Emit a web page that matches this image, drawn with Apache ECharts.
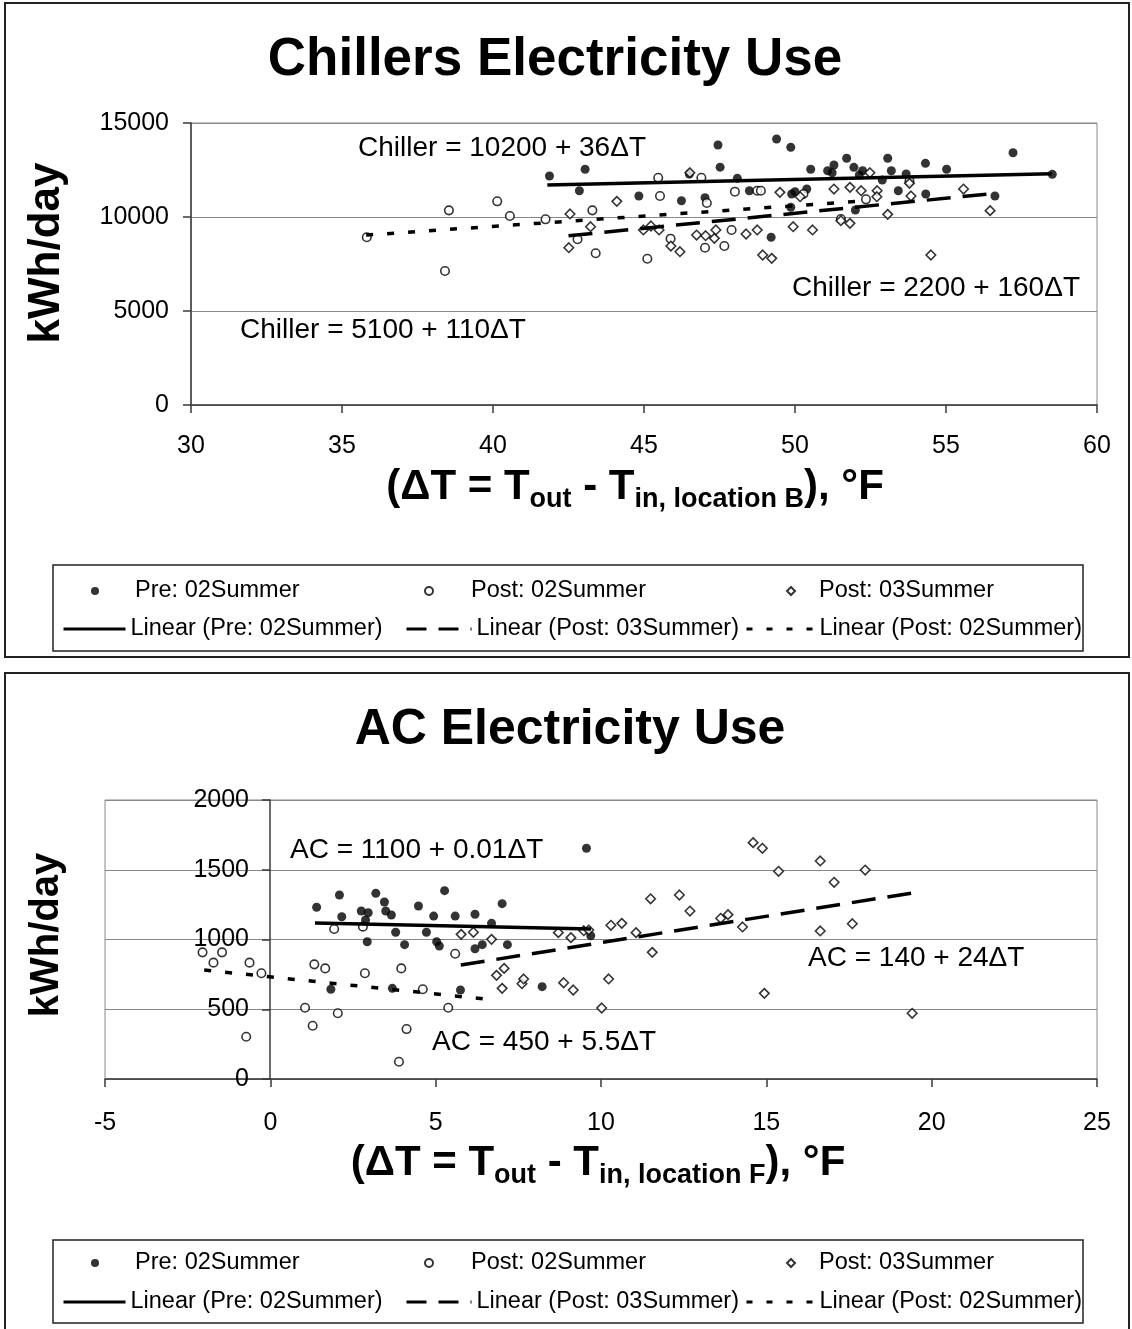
<!DOCTYPE html>
<html><head><meta charset="utf-8">
<script src="https://cdn.jsdelivr.net/npm/echarts@6/dist/echarts.min.js"></script>
<style>html,body{margin:0;padding:0;background:#fff}#c1{width:1132px;height:660px}#c2{width:1132px;height:669px}</style>
</head><body><div id="c1"></div><div id="c2"></div>
<script>
// ---------- DATA: Chillers (top chart) ----------
const chillerPre02 = [[41.87,12181],[43.05,12537],[42.86,11399],[44.83,11117],[46.24,10867],[47.02,11027],[46.5,12287],[47.45,13830],[47.52,12650],[48.09,12058],[49.39,14149],[49.86,13707],[48.49,11399],[49.21,8920],[49.89,11223],[50.0,11347],[50.39,11489],[49.86,10516],[50.52,12537],[51.08,12463],[51.23,12356],[51.29,12766],[51.71,13122],[51.95,12643],[52.24,12463],[52.13,12234],[52.0,10373],[52.89,11968],[53.07,13122],[53.19,12463],[53.68,12287],[53.42,11399],[54.32,12856],[54.33,11223],[55.02,12537],[56.62,11117],[57.22,13420],[58.52,12270]];
const chillerPost02 = [[35.82,8920],[38.41,7128],[38.54,10355],[40.14,10834],[40.56,10053],[41.74,9877],[42.8,8814],[43.29,10355],[43.4,8069],[45.47,12090],[45.53,11117],[45.88,8846],[45.11,7782],[46.9,12090],[47.08,10745],[47.02,8367],[48.01,11347],[48.75,11399],[48.87,11399],[47.66,8457],[47.9,9309],[52.35,10941],[51.52,9894],[53.79,11915],[50.28,11223]];
const chillerPost03 = [[42.55,10160],[42.51,8367],[43.23,9484],[44.1,10834],[44.98,9309],[45.23,9521],[45.5,9309],[45.89,8457],[46.19,8154],[46.52,12356],[46.74,9042],[47.04,9005],[47.33,8866],[47.38,9309],[52.48,12356],[49.5,11313],[50.17,11080],[51.29,11489],[51.82,11578],[52.19,11399],[52.72,11399],[52.71,11080],[53.79,11790],[53.84,11117],[55.58,11489],[53.07,10143],[56.46,10337],[48.38,9096],[48.75,9309],[48.93,7979],[49.23,7801],[49.94,9484],[50.58,9309],[51.52,9803],[51.82,9661],[54.5,7979]];
const chillerPreFit = [[41.8,11705],[58.5,12306]];
const chillerPost03Fit = [[42.5,9000],[56.4,11224]];
const chillerPost02Fit = [[35.8,9038],[52.4,10864]];
const chillerXTicks = {min:30, max:60, interval:5};
const chillerYTicks = {min:0, max:15000, interval:5000};
const chillerNotes = ['Chiller = 10200 + 36ΔT','Chiller = 2200 + 160ΔT','Chiller = 5100 + 110ΔT'];

// ---------- DATA: AC (bottom chart) ----------
const acPre02 = [[9.56,1654],[1.40,1231],[2.09,1319],[2.16,1163],[2.75,1204],[2.96,1192],[2.93,984],[2.88,1140],[3.19,1331],[3.45,1269],[3.49,1204],[3.66,1176],[3.79,1052],[4.06,963],[4.48,1240],[4.72,1052],[4.94,1168],[5.27,1350],[5.03,984],[5.11,953],[5.59,1168],[6.19,1181],[6.19,934],[6.41,963],[6.69,1116],[7.01,1257],[7.17,963],[1.83,643],[3.69,650],[5.75,638],[8.22,662],[9.69,1027]];
const acPost02 = [[-0.27,758],[1.33,822],[1.66,793],[1.93,1075],[2.80,1092],[2.86,758],[3.96,793],[1.05,511],[1.28,382],[2.04,471],[4.12,358],[3.89,124],[4.61,643],[5.38,511],[5.59,898],[-2.05,908],[-1.46,908],[-1.72,834],[-0.63,834],[-0.73,303]];
const acPost03 = [[5.77,1037],[6.14,1052],[6.69,1001],[6.84,743],[7.07,793],[7.01,650],[7.61,683],[7.66,717],[8.71,1049],[8.87,690],[9.16,638],[9.09,1013],[9.48,1063],[10.3,1102],[10.63,1116],[10.23,717],[10.02,509],[9.63,1068],[11.06,1049],[11.5,1292],[11.55,908],[12.37,1319],[12.69,1204],[13.62,1152],[13.84,1178],[14.28,1090],[14.6,1694],[14.88,1654],[14.94,614],[15.37,1489],[16.63,1563],[16.63,1061],[17.05,1410],[17.6,1113],[17.99,1498],[19.41,471]];
const acPreFit = [[1.35,1118],[9.7,1075]];
const acPost03Fit = [[5.76,817],[19.4,1333]];
const acPost02Fit = [[-2.0,781],[6.5,573]];
const acXTicks = {min:-5, max:25, interval:5};
const acYTicks = {min:0, max:2000, interval:500};
const acNotes = ['AC = 1100 + 0.01ΔT','AC = 140 + 24ΔT','AC = 450 + 5.5ΔT'];

const seriesNames = ['Pre: 02Summer','Post: 02Summer','Post: 03Summer','Linear (Pre: 02Summer)','Linear (Post: 03Summer)','Linear (Post: 02Summer)'];

// ---------- BUILD ----------
const FF = '"Liberation Sans", Arial, Helvetica, sans-serif';
const AXC = '#3a3a3a';
const DASH_LONG = [24, 12];
const DASH_SHORT = [7, 14];

function makeOption(c) {
  const axisLine = {lineStyle:{color:AXC, width:1.5}};
  const axisTick = {show:true, inside:false, length:8, lineStyle:{color:AXC, width:1.5}};
  const legendBase = {orient:'horizontal', padding:0, selectedMode:false};
  const txt = (padLeft) => ({fontSize:23.5, color:'#000', fontFamily:FF, padding:[0,0,0,padLeft]});
  const hideSym = {itemStyle:{opacity:0, borderWidth:0}};
  const lg = (name, left, top, w, h, padLeft, extra) => Object.assign({}, legendBase, {data:[name], left, top, itemWidth:w, itemHeight:h, textStyle:txt(padLeft)}, extra || {});
  const L = c.legend;
  return {
    animation:false,
    backgroundColor:'#fff',
    textStyle:{fontFamily:FF},
    grid:{left:c.grid.left, top:c.grid.top, width:c.grid.width, height:c.grid.height, show:true, borderColor:'#888', borderWidth:1, containLabel:false},
    xAxis:{type:'value', min:c.xt.min, max:c.xt.max, interval:c.xt.interval,
      axisLine:Object.assign({onZero:false}, axisLine), axisTick,
      axisLabel:{fontSize:25, color:'#000', margin:c.xMargin, fontFamily:FF, formatter:(v) => String(v)},
      splitLine:{show:false}},
    yAxis:{type:'value', min:c.yt.min, max:c.yt.max, interval:c.yt.interval, offset:c.yOffset,
      axisLine:Object.assign({onZero:false, show:true}, axisLine), axisTick,
      axisLabel:{fontSize:25, color:'#000', margin:c.yMargin, fontFamily:FF, formatter:(v) => String(v)},
      splitLine:{show:true, lineStyle:{color:'#888', width:1}}},
    legend:[
      lg(seriesNames[0], L.r1[0] - 4, L.t1, 8, 8, L.r1t[0] - L.r1[0] - 9),
      lg(seriesNames[1], L.r1[1] - 4, L.t1, 8, 8, L.r1t[1] - L.r1[1] - 9),
      lg(seriesNames[2], L.r1[2] - 4, L.t1, 8, 8, L.r1t[2] - L.r1[2] - 9),
      lg(seriesNames[3], L.r2[0], L.t2, 62, 14, 0, Object.assign({lineStyle:{width:3, type:'solid', color:'#000'}}, hideSym)),
      lg(seriesNames[4], L.r2[1], L.t2, 65, 14, 0, Object.assign({lineStyle:{width:3, type:[20,12], color:'#000'}}, hideSym)),
      lg(seriesNames[5], L.r2[2], L.t2, 68, 14, 0, Object.assign({lineStyle:{width:3, type:[6,14], color:'#000'}}, hideSym))
    ],
    series:[
      {name:seriesNames[0], type:'scatter', data:c.pre, symbol:'circle', symbolSize:9, itemStyle:{color:'#000'}, silent:true},
      {name:seriesNames[1], type:'scatter', data:c.post02, symbol:'circle', symbolSize:8.5, itemStyle:{color:'#fff', borderColor:'#000', borderWidth:1.6}, silent:true},
      {name:seriesNames[2], type:'scatter', data:c.post03, symbol:'diamond', symbolSize:9.5, itemStyle:{color:'#fff', borderColor:'#000', borderWidth:1.6}, silent:true},
      {name:seriesNames[3], type:'line', data:c.preFit, symbol:'none', itemStyle:{color:'#000'}, lineStyle:{color:'#000', width:3.5, type:'solid'}, silent:true, z:3},
      {name:seriesNames[4], type:'line', data:c.post03Fit, symbol:'none', itemStyle:{color:'#000'}, lineStyle:{color:'#000', width:3.5, type:DASH_LONG}, silent:true, z:3},
      {name:seriesNames[5], type:'line', data:c.post02Fit, symbol:'none', itemStyle:{color:'#000'}, lineStyle:{color:'#000', width:3.5, type:DASH_SHORT}, silent:true, z:3}
    ],
    graphic:[
      {type:'rect', silent:true, z:-10, shape:c.frame, style:{fill:'none', stroke:'#222', lineWidth:2}},
      {type:'rect', silent:true, z:-10, shape:c.legendBox, style:{fill:'none', stroke:'#222', lineWidth:1.5}},
      {type:'text', silent:true, x:c.title.x, y:c.title.y, style:{text:c.title.text, font:'bold ' + c.title.size + 'px ' + FF, fill:'#000', align:'center', verticalAlign:'middle'}},
      {type:'text', silent:true, x:c.yName.x, y:c.yName.y, rotation:Math.PI/2, style:{text:'kWh/day', font:'bold ' + c.yName.size + 'px ' + FF, fill:'#000', align:'center', verticalAlign:'middle'}},
      {type:'text', silent:true, x:c.xName.x, y:c.xName.y, style:{text:c.xName.text, fill:'#000', align:'center', verticalAlign:'middle',
        rich:{m:{fontSize:42, fontWeight:'bold', fontFamily:FF, lineHeight:52}, s:{fontSize:27, fontWeight:'bold', fontFamily:FF, lineHeight:27, verticalAlign:'bottom'}}}},
      ...c.notes.map((n) => ({type:'text', silent:true, x:n.x, y:n.y, style:{text:n.text, font:'28px ' + FF, fill:'#000', align:'left', verticalAlign:'middle'}}))
    ]
  };
}

const chart1 = echarts.init(document.getElementById('c1'), null, {renderer:'canvas'});
chart1.setOption(makeOption({
  grid:{left:191, top:123, width:906, height:282},
  xt:chillerXTicks, yt:chillerYTicks, xMargin:29, yMargin:22, yOffset:0,
  pre:chillerPre02, post02:chillerPost02, post03:chillerPost03,
  preFit:chillerPreFit, post03Fit:chillerPost03Fit, post02Fit:chillerPost02Fit,
  frame:{x:5, y:3, width:1124, height:654},
  legendBox:{x:53, y:565, width:1030, height:86},
  legend:{r1:[95, 428, 790], r1t:[135, 470, 818], t1:579, r2:[62, 405, 745], t2:617},
  title:{text:'Chillers Electricity Use', x:555, y:60, size:53},
  yName:{x:47, y:253, size:44},
  xName:{x:635, y:487, text:'{m|(ΔT = T}{s|out}{m| - T}{s|in, location B}{m|), °F}'},
  notes:[{text:chillerNotes[0], x:358, y:148},{text:chillerNotes[1], x:792, y:288},{text:chillerNotes[2], x:240, y:330}]
}));

const chart2 = echarts.init(document.getElementById('c2'), null, {renderer:'canvas'});
chart2.setOption(makeOption({
  grid:{left:105, top:140, width:992, height:279},
  xt:acXTicks, yt:acYTicks, xMargin:32, yMargin:21, yOffset:-165,
  pre:acPre02, post02:acPost02, post03:acPost03,
  preFit:acPreFit, post03Fit:acPost03Fit, post02Fit:acPost02Fit,
  frame:{x:5, y:13, width:1124, height:670},
  legendBox:{x:53, y:580, width:1030, height:83},
  legend:{r1:[95, 428, 790], r1t:[135, 470, 818], t1:591, r2:[62, 405, 745], t2:630},
  title:{text:'AC Electricity Use', x:570, y:70, size:50},
  yName:{x:47, y:275, size:40},
  xName:{x:598, y:503, text:'{m|(ΔT = T}{s|out}{m| - T}{s|in, location F}{m|), °F}'},
  notes:[{text:acNotes[0], x:290, y:190},{text:acNotes[1], x:808, y:298},{text:acNotes[2], x:432, y:382}]
}));
</script></body></html>
